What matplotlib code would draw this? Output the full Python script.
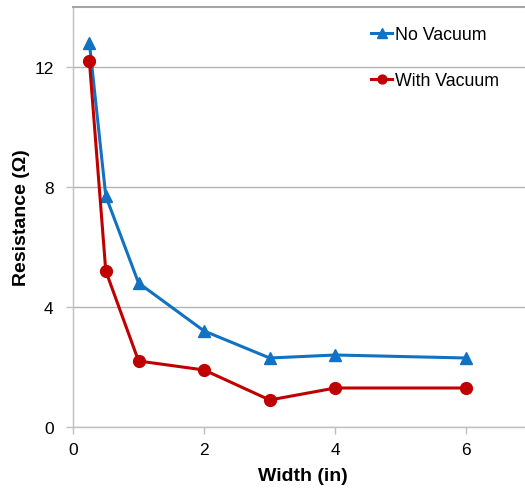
import matplotlib
matplotlib.use("Agg")
import matplotlib.pyplot as plt

width = [0.25, 0.5, 1, 2, 3, 4, 6]
no_vacuum = [12.8, 7.7, 4.8, 3.2, 2.3, 2.4, 2.3]
with_vacuum = [12.2, 5.2, 2.2, 1.9, 0.9, 1.3, 1.3]
xticks = [0, 2, 4, 6]
yticks = [0, 4, 8, 12]

plt.rcParams['font.family'] = ['Liberation Sans', 'DejaVu Sans']

fig = plt.figure(figsize=(5.25, 4.89), dpi=100)
ax = fig.add_axes([73/525, 1-428/489, (532-73)/525, (428-8)/489])

blue = '#1272C2'
red = '#C00000'
ax.plot(width, no_vacuum, color=blue, lw=2.2, marker='^', ms=9, label='No Vacuum', zorder=3)
ax.plot(width, with_vacuum, color=red, lw=2.2, marker='o', ms=8.5, label='With Vacuum', zorder=3)

ax.set_xlim(0, 7)
ax.set_ylim(0, 14)
ax.set_xticks(xticks)
ax.set_yticks(yticks)
ax.yaxis.grid(True, color='#B3B3B3', lw=1.0)
ax.set_axisbelow(True)
ax.spines['right'].set_visible(False)
for s in ['left', 'bottom', 'top']:
    ax.spines[s].set_color('#C0C0C0')
    ax.spines[s].set_linewidth(1.0)
ax.spines['top'].set_color('#A6A6A6')
ax.spines['top'].set_linewidth(1.5)
ax.tick_params(axis='both', colors='#BFBFBF', length=5, width=1, labelsize=12.5, labelcolor='black')
ax.tick_params(axis='y', pad=9)
ax.tick_params(axis='x', pad=6)

ax.set_xlabel('Width (in)', fontsize=14, fontweight='bold', labelpad=7)
ax.set_ylabel('Resistance (Ω)', fontsize=14, fontweight='bold', labelpad=3)

leg = ax.legend(loc='upper left', bbox_to_anchor=(371/525, 1-27/489), bbox_transform=fig.transFigure,
                frameon=False, fontsize=12.8, handlelength=1.2, handletextpad=0.15,
                labelspacing=1.65, markerscale=0.75, borderpad=0, borderaxespad=0)

fig.savefig('out.png', dpi=100)
